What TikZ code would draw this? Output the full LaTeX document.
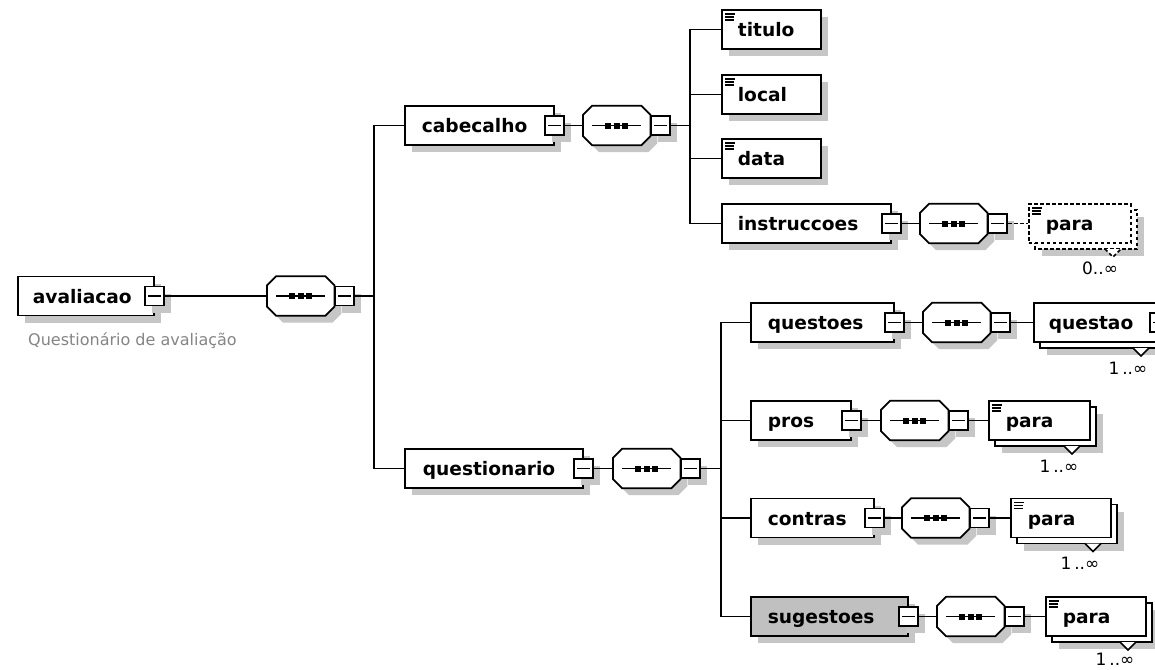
\documentclass[tikz,border=0pt]{standalone}
\usepackage{fontspec}
\usetikzlibrary{shadows,calc}
\newfontfamily\dv{DejaVu Sans}
\definecolor{shd}{HTML}{C6C6C6}
\definecolor{selg}{HTML}{C0C0C0}
\definecolor{lbl}{HTML}{858585}
\tikzset{
  sh/.style={drop shadow={shadow xshift=7pt,shadow yshift=-7pt,fill=shd,opacity=1}},
  ln/.style={line width=1.7pt,draw=black},
  dsh/.style={dash pattern=on 3.5pt off 2.5pt},
  plainbox/.style={ln,fill=white,minimum height=39pt,inner xsep=0pt,inner ysep=0pt,
    align=left,anchor=west,text height=18.5pt,text depth=4pt,
    font=\dv\bfseries\fontsize{18.6}{20}\selectfont},
  ebox/.style={plainbox,sh},
  mbox/.style={ln,fill=white,sh,minimum size=19pt,inner sep=0pt,
    path picture={\draw[line width=1.4pt] ([xshift=3pt]path picture bounding box.west) -- ([xshift=-3pt]path picture bounding box.east);}},
  seqn/.style={minimum width=67pt,minimum height=39pt,inner sep=0pt,anchor=west},
  card/.style={font=\dv\fontsize{17}{18}\selectfont,inner sep=0pt},
}
\newcommand\octpath[1]{([xshift=9pt]#1.north west) -- ([xshift=-9pt]#1.north east) -- ([yshift=-9pt]#1.north east) -- ([yshift=9pt]#1.south east) -- ([xshift=-9pt]#1.south east) -- ([xshift=9pt]#1.south west) -- ([yshift=9pt]#1.south west) -- ([yshift=-9pt]#1.north west) -- cycle}
\newcommand\octa[1]{%
  \begin{scope}[transform canvas={shift={(7pt,-7pt)}}]
    \fill[shd] \octpath{#1};
  \end{scope}
  \draw[ln,fill=white] \octpath{#1};
  \draw[line width=1.5pt] ([xshift=9pt]#1.west) -- ([xshift=-9pt]#1.east);
  \foreach \d in {-8.5,0,8.5}{\fill ([xshift=\d pt]#1.center) ++(-3pt,-3pt) rectangle ++(6pt,6pt);}
}
% rear box of a repeated element: left, right, cy, extra style
\newcommand\rear[4]{\draw[ln,fill=white,sh,#4] ({#1+7},{#3-19.5+6}) rectangle ({#2+7},{#3+19.5+6});}
% notch and cardinality: right, cy, text, extra style, label dy
\newcommand\notch[5]{%
  \draw[ln,fill=white,#4] ({#1-25},{#2+19.5+6}) -- ({#1-17},{#2+19.5+14}) -- ({#1-9},{#2+19.5+6});
  \node[card] at ({#1-30},{#2+19.5+#5}) {#3};}
% icon: left, cy
\newcommand\icon[2]{%
  \draw[line width=1.2pt] ({#1+4},{#2-19.5+4}) -- ++(10,0) ({#1+4},{#2-19.5+7}) -- ++(9,0) ({#1+4},{#2-19.5+10}) -- ++(9,0);}
\begin{document}
\begin{tikzpicture}[x=1pt,y=-1pt]
\useasboundingbox (0,0) rectangle (1155,669);
\fill[white] (0,0) rectangle (1155,669);
\clip (0,0) rectangle (1155,669);

% ---------- root
\node[ebox,text width=136pt] (av) at (17,296) {\hspace*{15pt}avaliacao};
\node[mbox] (avm) at (av.east) {};
\node[anchor=base west,inner sep=0pt,text=lbl,font=\dv\fontsize{16}{18}\selectfont] (avdoc) at (28,345) {Questionário de avaliação};
\node[seqn] (s0) at (267,296) {};
\octa{s0}
\node[mbox,anchor=west] (s0m) at (s0.east) {};
\coordinate (j0) at (374,296);

% ---------- cabecalho
\node[ebox,text width=149pt] (cab) at (404,125.5) {\hspace*{17pt}cabecalho};
\node[mbox] (cabm) at (cab.east) {};
\node[seqn] (s1) at (583,125.5) {};
\octa{s1}
\node[mbox,anchor=west] (s1m) at (s1.east) {};
\coordinate (j1) at (690,125.5);

\node[ebox,text width=99pt] (tit) at (721,29.5) {\hspace*{16pt}titulo};
\icon{721}{29.5}
\node[ebox,text width=99pt] (loc) at (721,94.5) {\hspace*{16pt}local};
\icon{721}{94.5}
\node[ebox,text width=99pt] (dat) at (721,158.5) {\hspace*{16pt}data};
\icon{721}{158.5}
\node[ebox,text width=169pt] (ins) at (721,223.5) {\hspace*{16pt}instruccoes};
\node[mbox] (insm) at (ins.east) {};
\node[seqn] (s2) at (920,223.5) {};
\octa{s2}
\node[mbox,anchor=west] (s2m) at (s2.east) {};
\rear{1028}{1130}{223.5}{dsh}
\node[plainbox,dsh,text width=102pt] (p0) at (1028,223.5) {\hspace*{17pt}para};
\icon{1028}{223.5}
\notch{1130}{223.5}{0..∞}{dsh}{25}

% ---------- questionario
\node[ebox,text width=178pt] (qst) at (404,468.5) {\hspace*{18pt}questionario};
\node[mbox] (qstm) at (qst.east) {};
\node[seqn] (s3) at (613,468.5) {};
\octa{s3}
\node[mbox,anchor=west] (s3m) at (s3.east) {};
\coordinate (j3) at (721,468.5);

% questoes
\node[ebox,text width=143pt] (qos) at (750,322.5) {\hspace*{17pt}questoes};
\node[mbox] (qosm) at (qos.east) {};
\node[seqn] (s4) at (923,322.5) {};
\octa{s4}
\node[mbox,anchor=west] (s4m) at (s4.east) {};
\rear{1033}{1158}{322.5}{}
\node[plainbox,text width=125pt] (qao) at (1033,322.5) {\hspace*{15pt}questao};
\node[mbox] (qaom) at (qao.east) {};
\notch{1158}{322.5}{1\,..∞}{}{26}

% pros
\node[ebox,text width=100pt] (pro) at (750,420.5) {\hspace*{17pt}pros};
\node[mbox] (prom) at (pro.east) {};
\node[seqn] (s5) at (881,420.5) {};
\octa{s5}
\node[mbox,anchor=west] (s5m) at (s5.east) {};
\rear{988}{1089}{420.5}{}
\node[plainbox,text width=101pt] (p1) at (988,420.5) {\hspace*{17pt}para};
\icon{988}{420.5}
\notch{1089}{420.5}{1\,..∞}{}{26}

% contras
\node[ebox,text width=123pt] (con) at (750,518) {\hspace*{17pt}contras};
\node[mbox] (conm) at (con.east) {};
\node[seqn] (s6) at (902,518) {};
\octa{s6}
\node[mbox,anchor=west] (s6m) at (s6.east) {};
\rear{1010}{1110}{518}{}
\node[plainbox,text width=100pt] (p2) at (1010,518) {\hspace*{17pt}para};
\icon{1010}{518}
\notch{1110}{518}{1\,..∞}{}{26}

% sugestoes
\node[ebox,fill=selg,text width=157pt] (sug) at (750,616.5) {\hspace*{17pt}sugestoes};
\node[mbox] (sugm) at (sug.east) {};
\node[seqn] (s7) at (937,616.5) {};
\octa{s7}
\node[mbox,anchor=west] (s7m) at (s7.east) {};
\rear{1045}{1145}{616.5}{}
\node[plainbox,text width=100pt] (p3) at (1045,616.5) {\hspace*{17pt}para};
\icon{1045}{616.5}
\notch{1145}{616.5}{1\,..∞}{}{23}

% ---------- connectors
\draw[ln] (avm.east) -- (s0.west);
\draw[ln] (s0m.east) -- (j0);
\draw[ln] (cab.west) -| (j0);
\draw[ln] (qst.west) -| (j0);

\draw[ln] (cabm.east) -- (s1.west);
\draw[ln] (s1m.east) -- (j1);
\draw[ln] (tit.west) -| (j1);
\draw[ln] (loc.west) -| (j1);
\draw[ln] (dat.west) -| (j1);
\draw[ln] (ins.west) -| (j1);
\draw[ln] (insm.east) -- (s2.west);
\draw[ln,dsh] (s2m.east) -- (p0.west);

\draw[ln] (qstm.east) -- (s3.west);
\draw[ln] (s3m.east) -- (j3);
\draw[ln] (qos.west) -| (j3);
\draw[ln] (pro.west) -| (j3);
\draw[ln] (con.west) -| (j3);
\draw[ln] (sug.west) -| (j3);
\draw[ln] (qosm.east) -- (s4.west);
\draw[ln] (s4m.east) -- (qao.west);
\draw[ln] (prom.east) -- (s5.west);
\draw[ln] (s5m.east) -- (p1.west);
\draw[ln] (conm.east) -- (s6.west);
\draw[ln] (s6m.east) -- (p2.west);
\draw[ln] (sugm.east) -- (s7.west);
\draw[ln] (s7m.east) -- (p3.west);
\end{tikzpicture}
\end{document}
